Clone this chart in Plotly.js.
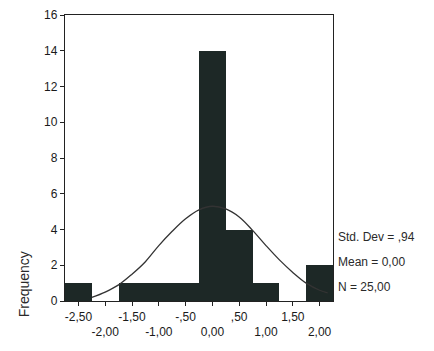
<!DOCTYPE html>
<html>
<head>
<meta charset="utf-8">
<script src="https://cdn.plot.ly/plotly-3.0.1.min.js"></script>
<style>html,body{margin:0;padding:0;background:#fff;}#chart{width:434px;height:351px;}</style>
</head>
<body>
<div id="chart"></div>
<script>
// Histogram bins (centres) and frequencies
const binCenters = [-2.5, -2.0, -1.5, -1.0, -0.5, 0.0, 0.5, 1.0, 1.5, 2.0];
const frequencies = [1, 0, 1, 1, 1, 14, 4, 1, 0, 2];
// Normal curve
const curveX = [-2.25, -2.0, -1.75, -1.5, -1.25, -1.0, -0.75, -0.5, -0.25, 0.0, 0.25, 0.5, 0.75, 1.0, 1.25, 1.5, 1.75, 2.0, 2.15];
const curveY = [0.2, 0.5, 0.9, 1.5, 2.2, 3.1, 3.9, 4.6, 5.1, 5.3, 5.15, 4.7, 3.95, 3.1, 2.3, 1.6, 1.0, 0.6, 0.45];
// Tick labels
const xTickVals = [-2.5, -2.0, -1.5, -1.0, -0.5, 0.0, 0.5, 1.0, 1.5, 2.0];
const xTickText = ["-2,50", "<br>-2,00", "-1,50", "<br>-1,00", "-,50", "<br>0,00", ",50", "<br>1,00", "1,50", "<br>2,00"];
const yTickVals = [0, 2, 4, 6, 8, 10, 12, 14, 16];
const statsLines = ["Std. Dev = ,94", "Mean = 0,00", "N = 25,00"];
const statsY = [3.6, 2.2, 0.8];

const font = {family: "Liberation Sans, Arial, sans-serif", size: 12, color: "#1a1a1a"};

const traces = [
  {
    type: "bar", x: binCenters, y: frequencies, width: 0.5,
    marker: {color: "#1d2826", line: {width: 0}},
    hoverinfo: "skip"
  },
  {
    type: "scatter", mode: "lines", x: curveX, y: curveY,
    line: {color: "#333", width: 1.3, shape: "spline"},
    hoverinfo: "skip"
  }
];

const annotations = statsLines.map((t, i) => ({
  text: t, x: 1.0, xref: "paper", xanchor: "left", xshift: 3,
  y: statsY[i], yref: "y", yanchor: "middle", showarrow: false,
  font: {family: font.family, size: 12, color: "#2a2a2a"}
}));
annotations.push({
  text: "Frequency", textangle: -90, xref: "paper", yref: "paper",
  x: -0.155, y: 0.06, xanchor: "center", yanchor: "middle", showarrow: false,
  font: {family: font.family, size: 14, color: "#2a2a2a"}
});

const layout = {
  width: 434, height: 351,
  margin: {l: 65, r: 101, t: 15, b: 50},
  paper_bgcolor: "#ffffff", plot_bgcolor: "#ffffff",
  showlegend: false, bargap: 0,
  font: font,
  xaxis: {
    range: [-2.75, 2.25], tickvals: xTickVals, ticktext: xTickText, tickangle: 0,
    ticks: "outside", ticklen: 4, tickcolor: "#222", showgrid: false, zeroline: false,
    showline: true, linecolor: "#222", linewidth: 1.2, mirror: true,
    tickfont: {family: font.family, size: 12, color: "#1a1a1a"}
  },
  yaxis: {
    range: [0, 16], tickvals: yTickVals,
    ticks: "outside", ticklen: 4, tickcolor: "#222", showgrid: false, zeroline: false,
    showline: true, linecolor: "#222", linewidth: 1.2, mirror: true,
    tickfont: {family: font.family, size: 12, color: "#1a1a1a"}
  },
  annotations: annotations
};

Plotly.newPlot("chart", traces, layout, {displayModeBar: false, staticPlot: true});
</script>
</body>
</html>
